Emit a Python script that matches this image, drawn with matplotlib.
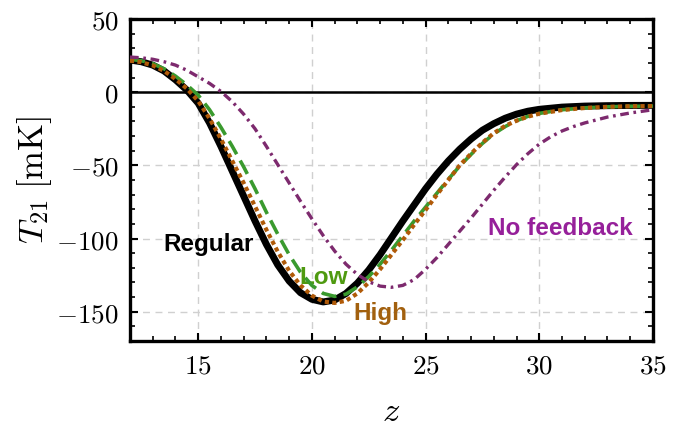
import numpy as np
import matplotlib.pyplot as plt
from matplotlib.ticker import MultipleLocator

plt.rcParams['mathtext.fontset'] = 'cm'
plt.rcParams['font.family'] = 'serif'
plt.rcParams['font.serif'] = ['DejaVu Serif']

# curve data (z, T21 in mK)
z_reg = [12, 12.5, 13, 13.5, 14, 14.5, 15, 15.5, 16, 16.5, 17, 17.5, 18, 18.5, 19, 19.5, 20, 20.5, 21, 21.5, 22, 22.5,
         23, 23.5, 24, 24.5, 25, 25.5, 26, 26.5, 27, 27.5, 28, 28.5, 29, 29.5, 30, 31, 32, 33, 34, 35]
t_reg = [22, 20.8, 18.5, 14.5, 8.5, 1.5, -7.5, -21, -37, -54, -71, -88, -104, -118, -129, -137, -141.5, -143.3, -142,
         -137.5, -130.5, -121.5, -111, -99.5, -88, -77, -66, -56, -47, -39, -32, -26, -21.5, -17.8, -15, -13, -11.7,
         -10.2, -9.5, -9.2, -9.05, -9]

z_low = [12, 12.5, 13, 13.5, 14, 14.5, 15, 15.5, 16, 16.5, 17, 17.5, 18, 18.5, 19, 19.5, 20, 20.5, 21, 21.5, 22, 22.5,
         23, 23.5, 24, 24.5, 25, 25.5, 26, 26.5, 27, 27.5, 28, 28.5, 29, 29.5, 30, 31, 32, 33, 34, 35]
t_low = [22.5, 21.5, 19.5, 16, 11, 5, -2, -12, -24, -37, -51, -66, -82, -97, -111, -123, -132, -137.5, -139.5, -138,
         -133, -126, -117.5, -108, -98, -88, -78.5, -69, -59.5, -50.5, -42.5, -35, -28.5, -23.5, -19.5, -16.5, -14.5,
         -12, -10.7, -10, -9.6, -9.5]

z_high = [12, 12.5, 13, 13.5, 14, 14.5, 15, 15.5, 16, 16.5, 17, 17.5, 18, 18.5, 19, 19.5, 20, 20.5, 21, 21.5, 22, 22.5,
          23, 23.5, 24, 24.5, 25, 25.5, 26, 26.5, 27, 27.5, 28, 28.5, 29, 29.5, 30, 31, 32, 33, 34, 35]
t_high = [21.5, 20.5, 18.3, 14.5, 9, 2.5, -6, -18, -32, -47, -62, -78, -94, -109, -122, -132, -139, -143, -144, -142.5,
          -137.5, -130, -121, -111, -101, -90.5, -80.5, -70, -60, -50, -42, -34.5, -28, -23, -19.5, -16.7, -14.7,
          -12.2, -10.8, -10, -9.6, -9.5]

z_nofb = [12, 12.5, 13, 13.5, 14, 14.5, 15, 15.5, 16, 16.5, 17, 17.5, 18, 18.5, 19, 19.5, 20, 20.5, 21, 21.5, 22, 22.5,
          23, 23.5, 24, 24.5, 25, 25.5, 26, 26.5, 27, 27.5, 28, 28.5, 29, 29.5, 30, 30.5, 31, 31.5, 32, 33, 34, 35]
t_nofb = [24, 23.5, 22.5, 20.8, 18.5, 15, 10.5, 6, 0.5, -6.5, -15, -25, -37, -49.5, -62, -74.5, -86.5, -98, -108.5,
          -117.5, -124.5, -129.5, -132.5, -133.3, -132, -128, -121, -113, -104, -95, -86, -76.5, -67, -58, -49.5,
          -42, -35.5, -30.5, -26.5, -23.5, -21, -17, -14.2, -12]

labels = ['Regular', 'Low', 'High', 'No feedback']

fig = plt.figure(figsize=(6.83, 4.29), dpi=100)
ax = fig.add_axes([0.1903, 0.2051, 0.7657, 0.7506])

ax.axhline(0, color='black', lw=1.8, zorder=2)
ax.plot(z_reg, t_reg, color='black', lw=5, solid_capstyle='round', zorder=3)
ax.plot(z_low, t_low, color='#3a9a2e', lw=2.6, dashes=(4.2, 2), zorder=4)
ax.plot(z_high, t_high, color='#b05a08', lw=3, dashes=(1, 0.8), zorder=5)
ax.plot(z_nofb, t_nofb, color='#7d2a6e', lw=2.4, dashes=(2.6, 1.4, 0.8, 1.4), zorder=6)

tk = dict(fontsize=17.5, fontweight='bold', family=['Liberation Sans', 'DejaVu Sans'])
ax.text(15.47, -104, labels[0], color='black', ha='center', va='center', **tk)
ax.text(20.5, -126.5, labels[1], color='#4f9a10', ha='center', va='center', **tk)
ax.text(23.0, -151, labels[2], color='#a2600e', ha='center', va='center', **tk)
ax.text(30.95, -93, labels[3], color='#96209a', ha='center', va='center', **tk)

ax.set_xlim(12, 35)
ax.set_ylim(-170, 50)
ax.xaxis.set_minor_locator(MultipleLocator(1))
ax.yaxis.set_minor_locator(MultipleLocator(10))
ax.set_xticks([15, 20, 25, 30, 35])
ax.set_xticklabels([f'${v}$' for v in [15, 20, 25, 30, 35]])
ax.set_yticks([-150, -100, -50, 0, 50])
ax.set_yticklabels(['$-150$', '$-100$', '$-50$', '$0$', '$50$'])
ax.tick_params(which='both', direction='in', top=True, right=True, labelsize=19.5, pad=8)
ax.tick_params(which='major', length=6, width=1.5)
ax.tick_params(which='minor', length=3.5, width=1.2)
ax.grid(True, which='major', ls=(0, (5, 4)), color='#d0d0d0', lw=1, zorder=0)
ax.set_axisbelow(True)
for s in ax.spines.values():
    s.set_linewidth(2.4)

ax.set_xlabel('$z$', fontsize=25, labelpad=11)
ax.set_ylabel(r'$T_{21}\;[\mathrm{mK}]$', fontsize=25, labelpad=2)

fig.savefig('out.png', dpi=100)
